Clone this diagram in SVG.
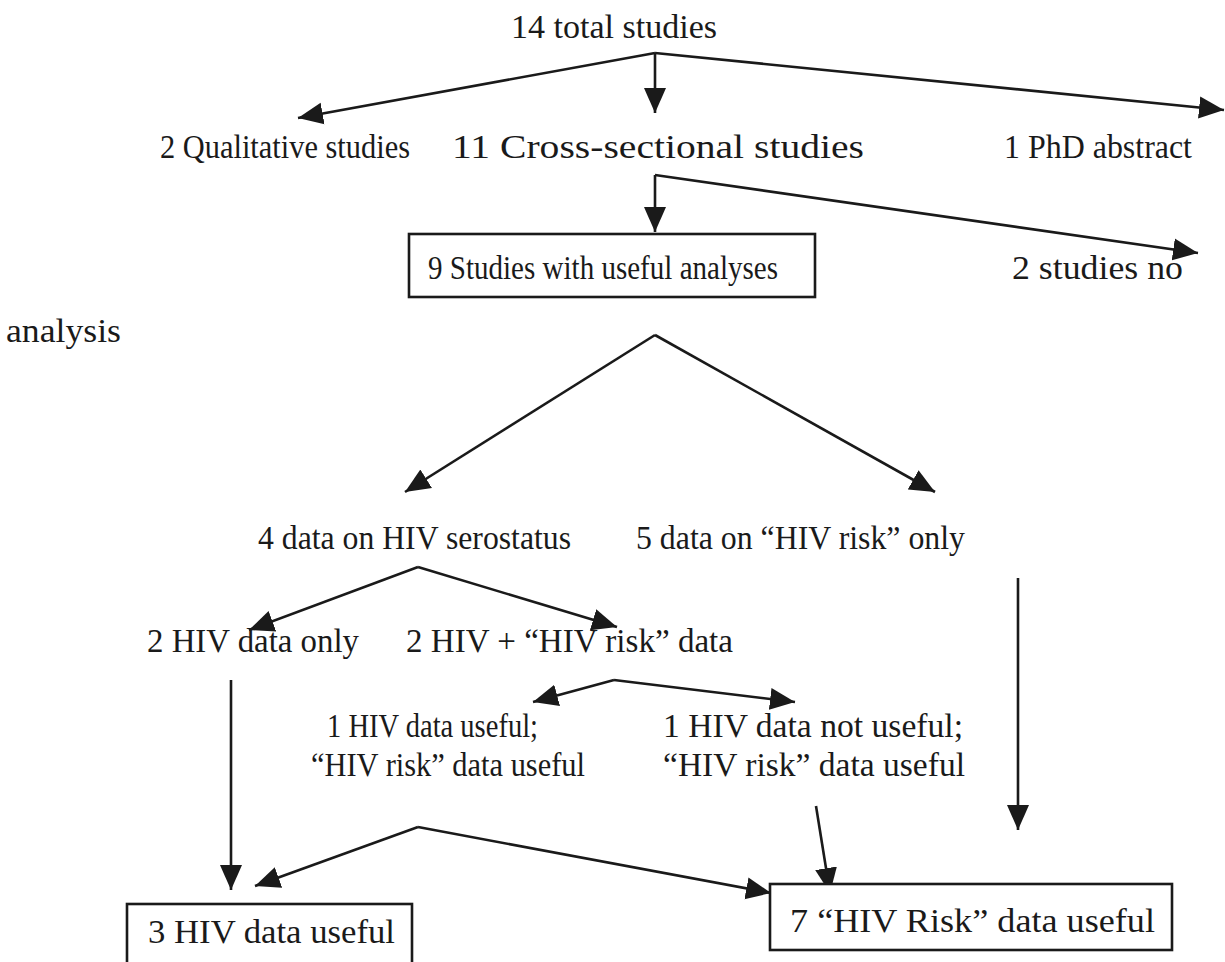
<svg xmlns="http://www.w3.org/2000/svg" width="1225" height="962" viewBox="0 0 1225 962">
<style>
text{font-family:"Liberation Serif","Times New Roman",serif;font-size:34px;fill:#1a1a1a}
.c{fill:none;stroke:#1a1a1a;stroke-width:2.6}
.b{fill:#fff;stroke:#1a1a1a;stroke-width:2.6}
</style>
<defs>
<marker id="ah" markerUnits="userSpaceOnUse" markerWidth="26" markerHeight="24" refX="25" refY="12" orient="auto" viewBox="0 0 26 24">
<path d="M0,1 L25,12 L0,23 z" fill="#1a1a1a"/>
</marker>
</defs>
<rect width="1225" height="962" fill="#fff"/>
<g id="connectors">
<path class="c" d="M655,53 L298,118" marker-end="url(#ah)"/>
<path class="c" d="M655,53 L655,113" marker-end="url(#ah)"/>
<path class="c" d="M655,53 L1224,110" marker-end="url(#ah)"/>
<path class="c" d="M655,175 L655,232" marker-end="url(#ah)"/>
<path class="c" d="M655,175 L1198,253" marker-end="url(#ah)"/>
<path class="c" d="M655,335 L405,492" marker-end="url(#ah)"/>
<path class="c" d="M655,335 L935,492" marker-end="url(#ah)"/>
<path class="c" d="M418,567 L249,630" marker-end="url(#ah)"/>
<path class="c" d="M418,567 L617,627" marker-end="url(#ah)"/>
<path class="c" d="M1018,578 L1018,830" marker-end="url(#ah)"/>
<path class="c" d="M231,680 L231,890" marker-end="url(#ah)"/>
<path class="c" d="M614,680 L533,702" marker-end="url(#ah)"/>
<path class="c" d="M614,680 L795,702" marker-end="url(#ah)"/>
<path class="c" d="M418,827 L255,886" marker-end="url(#ah)"/>
<path class="c" d="M418,827 L771,893" marker-end="url(#ah)"/>
<path class="c" d="M816,806 L830,893" marker-end="url(#ah)"/>
</g>
<g id="n-total"><text x="511" y="38" textLength="206" lengthAdjust="spacingAndGlyphs">14 total studies</text></g>
<g id="n-qual"><text x="160" y="158" textLength="250" lengthAdjust="spacingAndGlyphs">2 Qualitative studies</text></g>
<g id="n-cross"><text x="452" y="158" textLength="412" lengthAdjust="spacingAndGlyphs">11 Cross-sectional studies</text></g>
<g id="n-phd"><text x="1004" y="158" textLength="188" lengthAdjust="spacingAndGlyphs">1 PhD abstract</text></g>
<g id="n-useful"><rect class="b" x="409" y="234" width="406" height="63"/><text x="428" y="279" textLength="350" lengthAdjust="spacingAndGlyphs">9 Studies with useful analyses</text></g>
<g id="n-noanalysis"><text x="1012" y="279" textLength="171" lengthAdjust="spacingAndGlyphs">2 studies no</text><text x="6" y="342" textLength="115" lengthAdjust="spacingAndGlyphs">analysis</text></g>
<g id="n-sero"><text x="258" y="549" textLength="313" lengthAdjust="spacingAndGlyphs">4 data on HIV serostatus</text></g>
<g id="n-risk"><text x="636" y="549" textLength="329" lengthAdjust="spacingAndGlyphs">5 data on “HIV risk” only</text></g>
<g id="n-hivonly"><text x="147" y="652" textLength="212" lengthAdjust="spacingAndGlyphs">2 HIV data only</text></g>
<g id="n-hivplus"><text x="406" y="652" textLength="327" lengthAdjust="spacingAndGlyphs">2 HIV + “HIV risk” data</text></g>
<g id="n-both"><text x="327" y="737" textLength="211" lengthAdjust="spacingAndGlyphs">1 HIV data useful;</text><text x="311" y="776" textLength="274" lengthAdjust="spacingAndGlyphs">“HIV risk” data useful</text></g>
<g id="n-riskonly"><text x="663" y="737" textLength="300" lengthAdjust="spacingAndGlyphs">1 HIV data not useful;</text><text x="663" y="776" textLength="302" lengthAdjust="spacingAndGlyphs">“HIV risk” data useful</text></g>
<g id="n-hiv3"><rect class="b" x="127" y="904" width="285" height="70"/><text x="148" y="943" textLength="247" lengthAdjust="spacingAndGlyphs">3 HIV data useful</text></g>
<g id="n-risk7"><rect class="b" x="770" y="884" width="402" height="66"/><text x="790" y="932" textLength="365" lengthAdjust="spacingAndGlyphs">7 “HIV Risk” data useful</text></g>
</svg>
